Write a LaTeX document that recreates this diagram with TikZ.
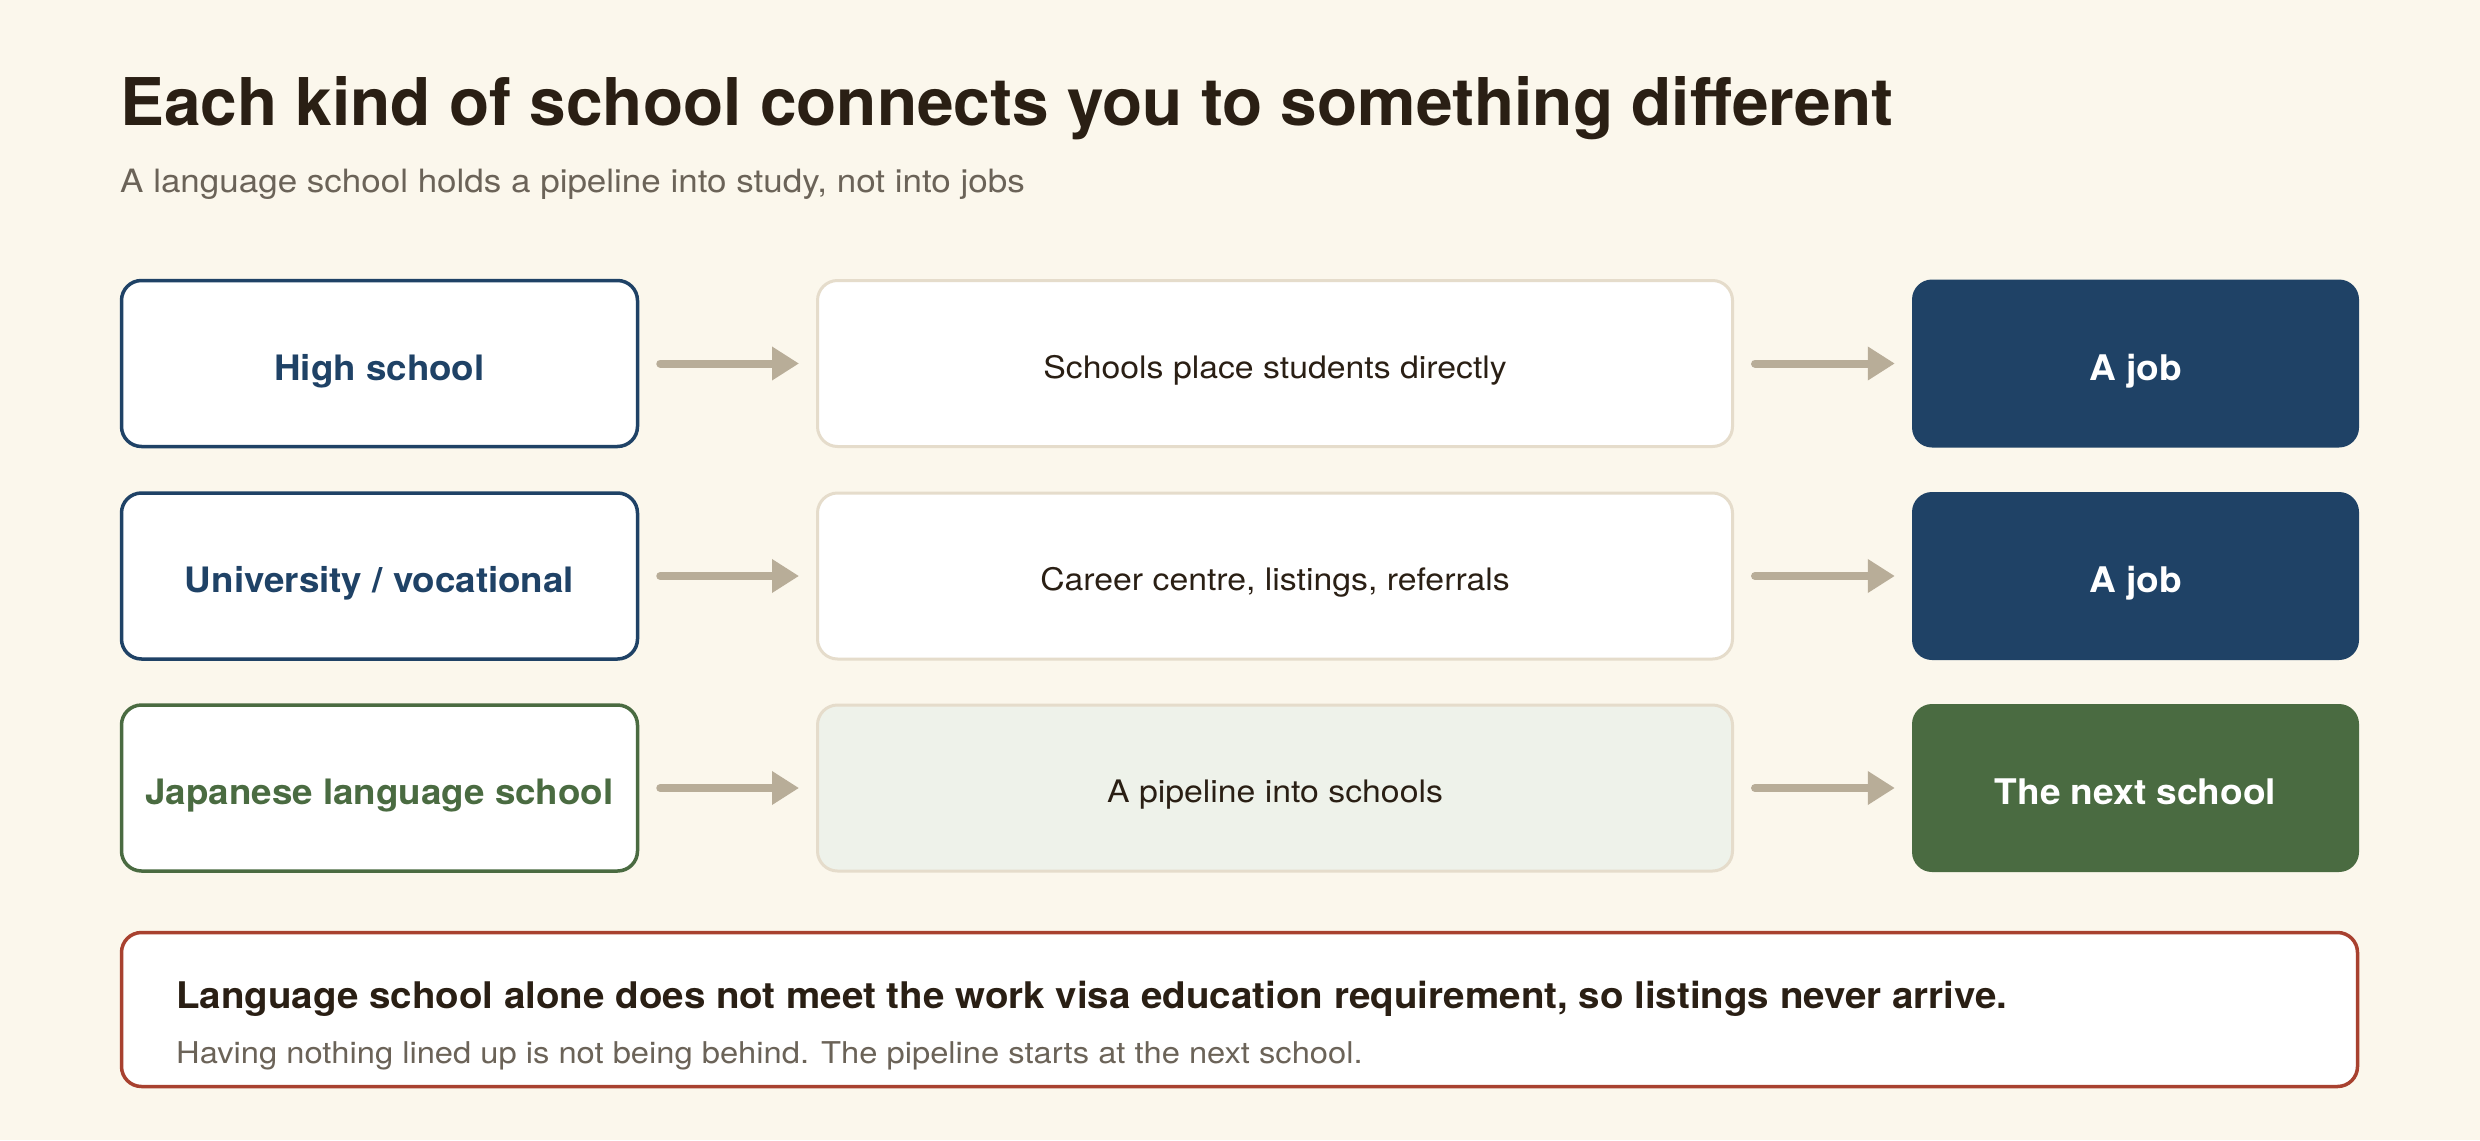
\documentclass[tikz,border=0pt]{standalone}
\usepackage{fontspec}
\setmainfont{TeX Gyre Heros}
\newfontfamily\plain{TeX Gyre Heros}[FakeStretch=1.09]
\newfontfamily\heavy{TeX Gyre Heros}[FakeStretch=1.05]
\usetikzlibrary{arrows.meta}
\definecolor{cream}{HTML}{FBF7EC}
\definecolor{ink}{HTML}{2A1F14}
\definecolor{muted}{HTML}{6B6358}
\definecolor{navy}{HTML}{1F4266}
\definecolor{moss}{HTML}{4A6B41}
\definecolor{sand}{HTML}{E5DCCB}
\definecolor{pale}{HTML}{EEF2EA}
\definecolor{taupe}{HTML}{B8AD98}
\definecolor{brick}{HTML}{A8412F}
\newcommand{\fs}[1]{\fontsize{#1}{#1}\selectfont}
\begin{document}
\begin{tikzpicture}[x=1pt, y=-1pt,
	srcbox/.style={draw=#1, text=#1, fill=white, line width=3.5pt, rounded corners=20pt,
		minimum width=516pt, minimum height=166pt, text height=33pt, text depth=0pt,
		font=\heavy\bfseries\fs{35}},
	viabox/.style={draw=sand, fill=#1, text=ink, line width=3pt, rounded corners=20pt,
		minimum width=915pt, minimum height=166pt, text height=29pt, text depth=0pt,
		font=\plain\fs{31}},
	endbox/.style={fill=#1, text=white, rounded corners=20pt,
		minimum width=447pt, minimum height=168pt, text height=33pt, text depth=0pt,
		font=\heavy\bfseries\fs{35.3}},
	flow/.style={draw=taupe, line width=8pt, line cap=round,
		-{Triangle[length=27pt, width=32pt]}, shorten <=21pt, shorten >=17pt}]
		\fill[cream] (0, 0) rectangle (2480, 1140);
		\useasboundingbox (0, 0) rectangle (2480, 1140);

		% titolo
		\node[anchor=base west, inner sep=0, text=ink, font=\bfseries\fs{65.8}] (title) at (120, 125)
			{Each kind of school connects you to something different};
		\node[anchor=base west, inner sep=0, text=muted, font=\plain\fs{32.1}] (subtitle) at (120, 192)
			{A language school holds a pipeline into study, not into jobs};

		% righe
		\node[srcbox=navy] (high) at (379.5, 363.5) {High school};
		\node[viabox=white] (high_via) at (1275, 363.5) {Schools place students directly};
		\node[endbox=navy] (high_end) at (2135.5, 363.5) {A job};

		\node[srcbox=navy] (uni) at (379.5, 576) {University / vocational};
		\node[viabox=white] (uni_via) at (1275, 576) {Career centre, listings, referrals};
		\node[endbox=navy] (uni_end) at (2135.5, 576) {A job};

		\node[srcbox=moss] (lang) at (379.5, 788) {Japanese language school};
		\node[viabox=pale] (lang_via) at (1275, 788) {A pipeline into schools};
		\node[endbox=moss] (lang_end) at (2135.5, 788) {The next school};

		% frecce
		\foreach \r in {high, uni, lang} {
			\draw[flow] (\r) -- (\r_via);
			\draw[flow] (\r_via) -- (\r_end);
		}

		% nota
		\node[draw=brick, fill=white, line width=3.5pt, rounded corners=20pt,
			minimum width=2236pt, minimum height=154pt] (note) at (1239.5, 1009.5) {};
		\node[anchor=base west, inner sep=0, text=ink, font=\heavy\bfseries\fs{36.7}] (note_head) at (176, 1008)
			{Language school alone does not meet the work visa education requirement, so listings never arrive.};
		\node[anchor=base west, inner sep=0, text=muted, font=\plain\fs{30}] (note_body) at (176, 1063)
			{Having nothing lined up is not being behind. The pipeline starts at the next school.};
\end{tikzpicture}
\end{document}
